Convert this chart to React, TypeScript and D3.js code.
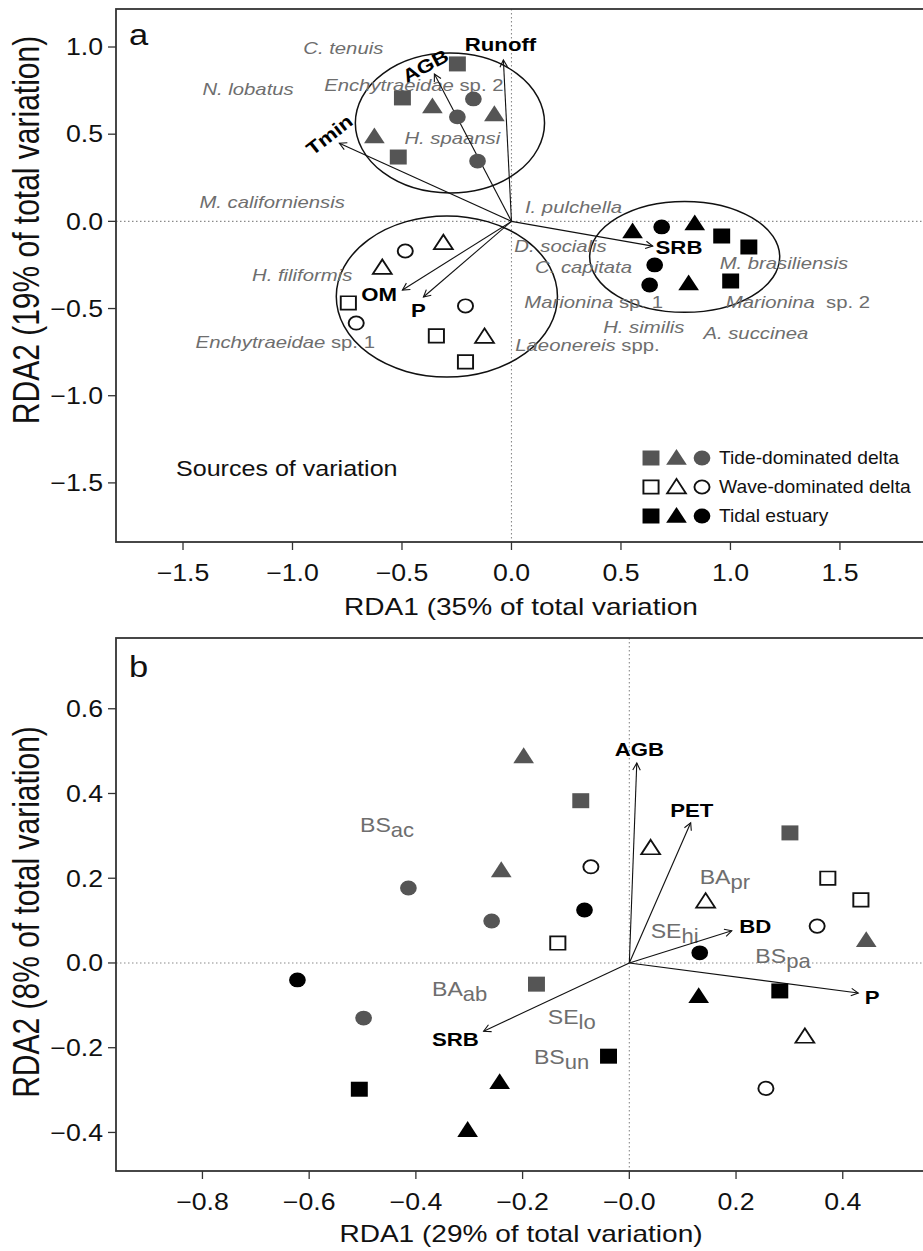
import React from 'react';
import * as d3 from 'd3';

const W = 923;
const H = 1251;
const FONT = '"Liberation Sans", Arial, Helvetica, sans-serif';
const GREY_FILL = '#555555';
const GREY_TEXT = '#6e6e6e';

type Shape = 's' | 't' | 'c';
type Pt = [number, number, Shape];
type Part = [string, boolean]; // text, italic

// ---------- Panel a : species RDA ----------
const aXTicks = [-1.5, -1.0, -0.5, 0.0, 0.5, 1.0, 1.5];
const aYTicks = [1.0, 0.5, 0.0, -0.5, -1.0, -1.5];
const aXDomain: [number, number] = [-1.806, 1.893];
const aYDomain: [number, number] = [-1.839, 1.218];

const aTide: Pt[] = [
  [-0.247, 0.903, 's'], [-0.498, 0.708, 's'], [-0.361, 0.650, 't'],
  [-0.174, 0.702, 'c'], [-0.247, 0.599, 'c'], [-0.078, 0.605, 't'],
  [-0.626, 0.478, 't'], [-0.517, 0.369, 's'], [-0.155, 0.346, 'c'],
];
const aWave: Pt[] = [
  [-0.311, -0.132, 't'], [-0.485, -0.170, 'c'], [-0.590, -0.274, 't'],
  [-0.745, -0.468, 's'], [-0.709, -0.583, 'c'], [-0.210, -0.485, 'c'],
  [-0.343, -0.657, 's'], [-0.123, -0.669, 't'], [-0.210, -0.806, 's'],
];
const aEstuary: Pt[] = [
  [0.553, -0.067, 't'], [0.686, -0.032, 'c'], [0.837, -0.021, 't'],
  [0.960, -0.084, 's'], [1.084, -0.147, 's'], [0.654, -0.250, 'c'],
  [0.631, -0.365, 'c'], [0.809, -0.365, 't'], [1.001, -0.342, 's'],
];
// group ellipses: cx, cy, rx, ry (data units)
const aEllipses: [number, number, number, number][] = [
  [-0.281, 0.564, 0.432, 0.401],
  [-0.295, -0.431, 0.505, 0.462],
  [0.791, -0.2035, 0.434, 0.318],
];
// explanatory variables: tip x, tip y, label x, label y, label rotation
const aArrowNames = ['Runoff', 'AGB', 'Tmin', 'SRB', 'OM', 'P'];
const aArrowTips: [number, number][] = [
  [-0.037, 0.926], [-0.352, 0.845], [-0.786, 0.448],
  [0.645, -0.142], [-0.498, -0.394], [-0.402, -0.434],
];
const aArrowLabels: [number, number, number][] = [
  [-0.050, 1.011, 0], [-0.393, 0.891, -28], [-0.831, 0.495, -38],
  [0.765, -0.153, 0], [-0.604, -0.423, 0], [-0.425, -0.512, 0],
];
const aSpeciesNames: Part[][] = [
  [['C. tenuis', true]],
  [['N. lobatus', true]],
  [['Enchytraeidae', true], [' sp. 2', false]],
  [['H. spaansi', true]],
  [['M. californiensis', true]],
  [['I. pulchella', true]],
  [['D. socialis', true]],
  [['C. capitata', true]],
  [['M. brasiliensis', true]],
  [['Marionina', true], [' sp. 1', false]],
  [['Marionina', true], ['  sp. 2', false]],
  [['H. similis', true]],
  [['A. succinea', true]],
  [['Laeonereis', true], [' spp.', false]],
  [['H. filiformis', true]],
  [['Enchytraeidae', true], [' sp. 1', false]],
];
const aSpeciesPos: [number, number][] = [
  [-0.768, 0.994], [-1.203, 0.759], [-0.446, 0.782], [-0.270, 0.477],
  [-1.093, 0.111], [0.283, 0.083], [0.224, -0.142], [0.329, -0.261],
  [1.244, -0.239], [0.375, -0.462], [1.308, -0.462], [0.604, -0.606],
  [1.116, -0.640], [0.347, -0.709], [-0.956, -0.307], [-1.033, -0.690],
];
const legendLabels = ['Tide-dominated delta', 'Wave-dominated delta', 'Tidal estuary'];

// ---------- Panel b : functional traits RDA ----------
const bXTicks = [-0.8, -0.6, -0.4, -0.2, 0.0, 0.2, 0.4];
const bXTickLabels = ['\u22120.8', '\u22120.6', '\u22120.4', '\u22120.2', '\u22120.0', '0.2', '0.4'];
const bYTicks = [0.6, 0.4, 0.2, 0.0, -0.2, -0.4];
const bXDomain: [number, number] = [-0.962, 0.556];
const bYDomain: [number, number] = [-0.491, 0.767];

const bTide: Pt[] = [
  [-0.198, 0.484, 't'], [-0.091, 0.383, 's'], [-0.240, 0.215, 't'],
  [-0.414, 0.177, 'c'], [-0.258, 0.099, 'c'], [-0.174, -0.050, 's'],
  [-0.498, -0.130, 'c'], [0.301, 0.307, 's'], [0.444, 0.050, 't'],
];
const bWave: Pt[] = [
  [0.040, 0.268, 't'], [-0.072, 0.227, 'c'], [-0.134, 0.047, 's'],
  [0.143, 0.142, 't'], [0.372, 0.200, 's'], [0.434, 0.149, 's'],
  [0.352, 0.087, 'c'], [0.329, -0.177, 't'], [0.256, -0.296, 'c'],
];
const bEstuary: Pt[] = [
  [-0.084, 0.125, 'c'], [0.132, 0.024, 'c'], [-0.622, -0.040, 'c'],
  [0.130, -0.082, 't'], [0.282, -0.066, 's'], [-0.039, -0.220, 's'],
  [-0.243, -0.285, 't'], [-0.506, -0.298, 's'], [-0.303, -0.398, 't'],
];
const bArrowNames = ['AGB', 'PET', 'BD', 'P', 'SRB'];
const bArrowTips: [number, number][] = [
  [0.014, 0.472], [0.115, 0.331], [0.192, 0.076], [0.429, -0.071], [-0.273, -0.161],
];
const bArrowLabels: [number, number, number][] = [
  [0.019, 0.503, 0], [0.117, 0.359, 0], [0.236, 0.085, 0], [0.455, -0.082, 0], [-0.326, -0.182, 0],
];
// trait labels: main text, subscript
const bTraitNames: [string, string][] = [
  ['BS', 'ac'], ['BA', 'pr'], ['SE', 'hi'], ['BS', 'pa'], ['BA', 'ab'], ['SE', 'lo'], ['BS', 'un'],
];
const bTraitPos: [number, number][] = [
  [-0.454, 0.326], [0.179, 0.205], [0.085, 0.078], [0.288, 0.019],
  [-0.318, -0.059], [-0.108, -0.125], [-0.127, -0.220],
];

const fmt = (v: number) => (v < 0 ? '\u2212' : '') + Math.abs(v).toFixed(1);

const symbolOf: Record<Shape, d3.SymbolType> = {
  s: d3.symbolSquare,
  t: d3.symbolTriangle,
  c: d3.symbolCircle,
};
const filledSize: Record<Shape, number> = { s: 225, t: 145, c: 172 };
const openSize: Record<Shape, number> = { s: 180, t: 120, c: 140 };

type Kind = 'tide' | 'wave' | 'est';

function Marker({ x, y, shape, kind }: { x: number; y: number; shape: Shape; kind: Kind }) {
  const open = kind === 'wave';
  const d = d3.symbol(symbolOf[shape], open ? openSize[shape] : filledSize[shape])() || '';
  return (
    <path
      d={d}
      transform={`translate(${x},${y}) scale(1.13,1)`}
      fill={open ? '#ffffff' : kind === 'tide' ? GREY_FILL : '#000000'}
      stroke={open ? '#111111' : 'none'}
      strokeWidth={open ? 1.7 : 0}
    />
  );
}

function Txt({
  x, y, size, sx = 1.2, anchor = 'middle', weight = 'normal', fill = '#111', rot = 0,
  baseline = 'central', style, children,
}: any) {
  return (
    <text
      transform={`translate(${x},${y}) rotate(${rot}) scale(${sx},1)`}
      fontSize={size}
      fontFamily={FONT}
      fontWeight={weight}
      fill={fill}
      textAnchor={anchor}
      dominantBaseline={baseline}
      style={style}
    >
      {children}
    </text>
  );
}

function Arrow({ x0, y0, x1, y1 }: { x0: number; y0: number; x1: number; y1: number }) {
  const ang = Math.atan2(y1 - y0, x1 - x0);
  const len = 8;
  const spread = (28 * Math.PI) / 180;
  const h1x = x1 - len * Math.cos(ang - spread);
  const h1y = y1 - len * Math.sin(ang - spread);
  const h2x = x1 - len * Math.cos(ang + spread);
  const h2y = y1 - len * Math.sin(ang + spread);
  return (
    <g stroke="#111" strokeWidth={1.1} fill="none">
      <line x1={x0} y1={y0} x2={x1} y2={y1} />
      <path d={`M${h1x},${h1y}L${x1},${y1}L${h2x},${h2y}`} />
    </g>
  );
}

type Frame = { left: number; right: number; top: number; bottom: number };

function Axes({
  frame, x, y, xTicks, xLabels, yTicks, xTitle, yTitle, xTitleY, yTitleY, tag, tagY,
}: any) {
  const f: Frame = frame;
  return (
    <g>
      {/* frame, right side falls outside the canvas */}
      <rect
        x={f.left}
        y={f.top}
        width={f.right - f.left}
        height={f.bottom - f.top}
        fill="none"
        stroke="#333"
        strokeWidth={1.8}
      />
      {xTicks.map((t: number, i: number) => (
        <g key={`xt${i}`}>
          <line x1={x(t)} x2={x(t)} y1={f.bottom} y2={f.bottom + 8} stroke="#333" strokeWidth={1.3} />
          <Txt x={x(t)} y={f.bottom + 31} size={23} sx={1.16} fill="#111">
            {xLabels[i]}
          </Txt>
        </g>
      ))}
      {yTicks.map((t: number, i: number) => (
        <g key={`yt${i}`}>
          <line x1={f.left - 8} x2={f.left} y1={y(t)} y2={y(t)} stroke="#333" strokeWidth={1.3} />
          <Txt x={f.left - 13} y={y(t)} size={23} sx={1.16} anchor="end" fill="#111">
            {fmt(t)}
          </Txt>
        </g>
      ))}
      <Txt x={(f.left + f.right) / 2} y={xTitleY} size={23} sx={1.22} fill="#111">
        {xTitle}
      </Txt>
      <text
        transform={`translate(27,${yTitleY}) scale(1.2,1) rotate(-90)`}
        fontSize={30}
        fontFamily={FONT}
        fill="#111"
        textAnchor="middle"
        dominantBaseline="central"
      >
        {yTitle}
      </text>
      <Txt x={f.left + 13} y={tagY} size={30} sx={1.15} anchor="start" baseline="alphabetic" fill="#111">
        {tag}
      </Txt>
    </g>
  );
}

function PanelA() {
  const frame: Frame = { left: 116, right: 926, top: 9, bottom: 542 };
  const x = d3.scaleLinear().domain(aXDomain).range([frame.left, frame.right]);
  const y = d3.scaleLinear().domain(aYDomain).range([frame.bottom, frame.top]);
  const kx = x(1) - x(0);
  const ky = y(0) - y(1);
  const groups: [Pt[], Kind][] = [[aTide, 'tide'], [aWave, 'wave'], [aEstuary, 'est']];
  return (
    <g>
      <line x1={x(0)} x2={x(0)} y1={frame.top} y2={frame.bottom} stroke="#8a8a8a" strokeWidth={1.1} strokeDasharray="1.5,2.5" />
      <line x1={frame.left} x2={frame.right} y1={y(0)} y2={y(0)} stroke="#8a8a8a" strokeWidth={1.1} strokeDasharray="1.5,2.5" />
      {aEllipses.map((e, i) => (
        <ellipse key={`el${i}`} cx={x(e[0])} cy={y(e[1])} rx={e[2] * kx} ry={e[3] * ky} fill="none" stroke="#111" strokeWidth={1.5} />
      ))}
      {aSpeciesNames.map((parts, i) => (
        <Txt key={`sp${i}`} x={x(aSpeciesPos[i][0])} y={y(aSpeciesPos[i][1])} size={16.5} sx={1.23} fill={GREY_TEXT}>
          {parts.map((p, j) => (
            <tspan key={j} fontStyle={p[1] ? 'italic' : 'normal'} style={{ whiteSpace: 'pre' }}>
              {p[0]}
            </tspan>
          ))}
        </Txt>
      ))}
      {aArrowTips.map((t, i) => (
        <Arrow key={`ar${i}`} x0={x(0)} y0={y(0)} x1={x(t[0])} y1={y(t[1])} />
      ))}
      {groups.map(([pts, kind]) =>
        pts.map((p, i) => <Marker key={`${kind}${i}`} x={x(p[0])} y={y(p[1])} shape={p[2]} kind={kind} />),
      )}
      {aArrowNames.map((n, i) => (
        <Txt key={`an${i}`} x={x(aArrowLabels[i][0])} y={y(aArrowLabels[i][1])} rot={aArrowLabels[i][2]} size={18.5} sx={1.2} weight="bold" fill="#000">
          {n}
        </Txt>
      ))}
      <Txt x={176} y={469} size={22} sx={1.14} anchor="start" fill="#111">
        Sources of variation
      </Txt>
      {legendLabels.map((lab, i) => {
        const ly = 458 + i * 29;
        const kind: Kind = i === 0 ? 'tide' : i === 1 ? 'wave' : 'est';
        return (
          <g key={`lg${i}`}>
            {(['s', 't', 'c'] as Shape[]).map((s, j) => (
              <Marker key={s} x={651 + j * 25.5} y={ly + (s === 't' ? 1.5 : 0)} shape={s} kind={kind} />
            ))}
            <Txt x={719} y={ly} size={17.5} sx={1.1} anchor="start" fill="#111">
              {lab}
            </Txt>
          </g>
        );
      })}
      <Axes
        frame={frame}
        x={x}
        y={y}
        xTicks={aXTicks}
        xLabels={aXTicks.map(fmt)}
        yTicks={aYTicks}
        xTitle="RDA1 (35% of total variation"
        yTitle="RDA2 (19% of total variation)"
        xTitleY={607}
        yTitleY={230}
        tag="a"
        tagY={45}
      />
    </g>
  );
}

function PanelB() {
  const frame: Frame = { left: 116, right: 926, top: 638, bottom: 1171 };
  const x = d3.scaleLinear().domain(bXDomain).range([frame.left, frame.right]);
  const y = d3.scaleLinear().domain(bYDomain).range([frame.bottom, frame.top]);
  const groups: [Pt[], Kind][] = [[bTide, 'tide'], [bWave, 'wave'], [bEstuary, 'est']];
  return (
    <g>
      <line x1={x(0)} x2={x(0)} y1={frame.top} y2={frame.bottom} stroke="#8a8a8a" strokeWidth={1.1} strokeDasharray="1.5,2.5" />
      <line x1={frame.left} x2={frame.right} y1={y(0)} y2={y(0)} stroke="#8a8a8a" strokeWidth={1.1} strokeDasharray="1.5,2.5" />
      {bTraitNames.map((t, i) => (
        <Txt key={`tr${i}`} x={x(bTraitPos[i][0])} y={y(bTraitPos[i][1])} size={21} sx={1.1} fill={GREY_TEXT}>
          <tspan>{t[0]}</tspan>
          <tspan dy={5} fontSize={20}>{t[1]}</tspan>
        </Txt>
      ))}
      {bArrowTips.map((t, i) => (
        <Arrow key={`ar${i}`} x0={x(0)} y0={y(0)} x1={x(t[0])} y1={y(t[1])} />
      ))}
      {groups.map(([pts, kind]) =>
        pts.map((p, i) => <Marker key={`${kind}${i}`} x={x(p[0])} y={y(p[1])} shape={p[2]} kind={kind} />),
      )}
      {bArrowNames.map((n, i) => (
        <Txt key={`an${i}`} x={x(bArrowLabels[i][0])} y={y(bArrowLabels[i][1])} size={18.5} sx={1.2} weight="bold" fill="#000">
          {n}
        </Txt>
      ))}
      <Axes
        frame={frame}
        x={x}
        y={y}
        xTicks={bXTicks}
        xLabels={bXTickLabels}
        yTicks={bYTicks}
        xTitle="RDA1 (29% of total variation)"
        yTitle="RDA2 (8% of total variation)"
        xTitleY={1234}
        yTitleY={912}
        tag="b"
        tagY={677}
      />
    </g>
  );
}

export default function App() {
  return (
    <svg
      width={W}
      height={H}
      viewBox={`0 0 ${W} ${H}`}
      style={{ position: 'absolute', left: 0, top: 0, background: '#ffffff' }}
    >
      <rect x={0} y={0} width={W} height={H} fill="#ffffff" />
      <PanelA />
      <PanelB />
    </svg>
  );
}
